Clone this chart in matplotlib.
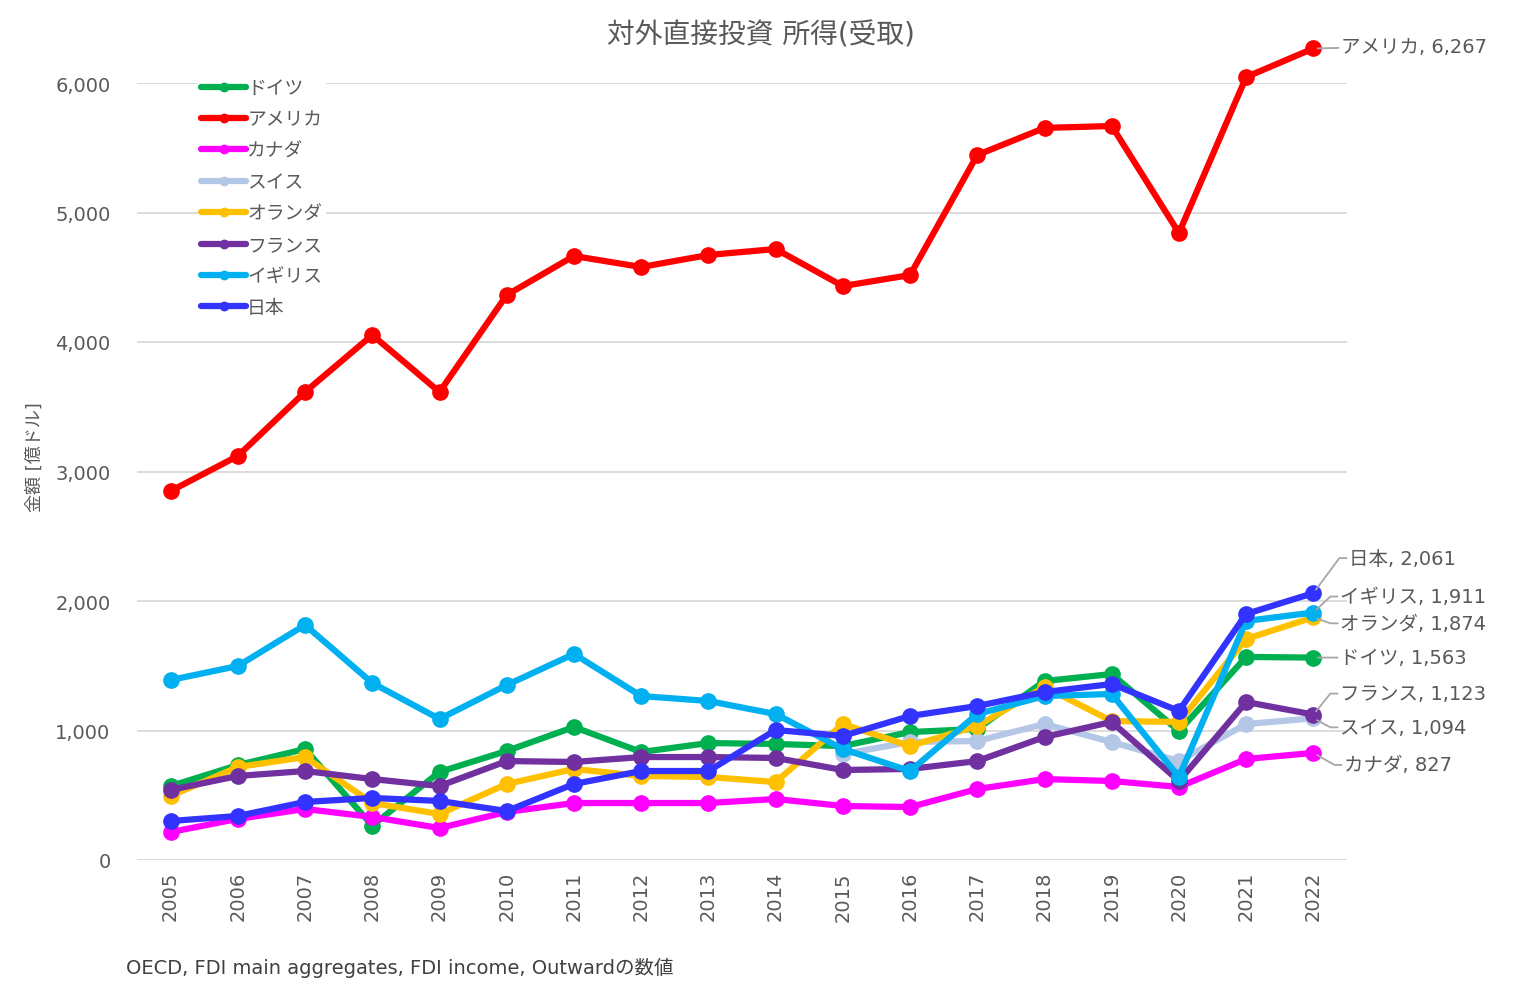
import math
import matplotlib
matplotlib.use("Agg")
import matplotlib.pyplot as plt
from matplotlib.ticker import FuncFormatter

# 英数字は幅の広い DejaVu、日本語は Noto にフォールバック
plt.rcParams['font.family'] = ['DejaVu Sans', 'Noto Sans CJK JP']

years = [str(y) for y in range(2005, 2023)]

# 億ドル
germany = [571, 733, 857, 265, 680, 842, 1027, 834, 903, 896, 880, 988, 1012, 1382, 1436, 996, 1568, 1563]
usa = [2849, 3120, 3614, 4054, 3614, 4363, 4664, 4579, 4672, 4718, 4432, 4517, 5444, 5653, 5668, 4842, 6046, 6267]
canada = [216, 317, 394, 332, 247, 371, 440, 440, 440, 471, 417, 409, 548, 625, 610, 564, 780, 827]
swiss = [None] * 10 + [818, 911, 919, 1050, 911, 764, 1050, 1094]
netherlands = [494, 718, 795, 440, 355, 587, 703, 649, 641, 602, 1050, 880, 1035, 1336, 1073, 1066, 1707, 1874]
france = [541, 649, 687, 625, 571, 764, 757, 795, 795, 788, 695, 703, 764, 950, 1066, 610, 1220, 1123]
uk = [1390, 1498, 1815, 1367, 1089, 1351, 1591, 1266, 1228, 1127, 857, 687, 1127, 1266, 1282, 641, 1846, 1911]
japan = [301, 340, 448, 479, 456, 378, 587, 687, 687, 1004, 958, 1112, 1189, 1297, 1359, 1151, 1900, 2061]

names = ["ドイツ", "アメリカ", "カナダ", "スイス", "オランダ", "フランス", "イギリス", "日本"]
values = [germany, usa, canada, swiss, netherlands, france, uk, japan]
colors = ["#00B050", "#FF0000", "#FF00FF", "#B4C7E7", "#FFC000", "#7030A0", "#00B0F0", "#3333FF"]

# ラベルのずらし量 (pixel): 点からテキスト左端まで
label_offsets = {
    "アメリカ": (28, 2),
    "日本": (36, 35),
    "イギリス": (27, 16),
    "オランダ": (27, -6),
    "ドイツ": (27, 0),
    "フランス": (27, 21),
    "スイス": (27, -9),
    "カナダ": (31, -12),
}

text_color = "#595959"

fig = plt.figure(figsize=(15.24, 9.95), dpi=100)
ax = fig.add_axes([137 / 1524, 1 - 861 / 995, 1210 / 1524, 777 / 995])

x = list(range(len(years)))
for name, vals, c in zip(names, values, colors):
    xs = [i for i, v in zip(x, vals) if v is not None]
    ys = [v for v in vals if v is not None]
    ax.plot(xs, ys, color=c, lw=4.5, marker="o", ms=11, label=name,
            solid_capstyle="round", solid_joinstyle="round", clip_on=False, zorder=3)

ax.set_xlim(-0.5, len(years) - 0.5)
ax.set_ylim(0, 6000)
ax.set_yticks(range(0, 6001, 1000))
ax.yaxis.set_major_formatter(FuncFormatter(lambda v, p: f"{int(v):,}"))
ax.set_xticks(x)
ax.set_xticklabels(years, rotation=90)
ax.tick_params(axis="both", length=0, labelsize=14, labelcolor=text_color)
ax.tick_params(axis="y", pad=19)
ax.tick_params(axis="x", pad=8)
ax.grid(axis="y", color="#D9D9D9", lw=1.3)
ax.set_axisbelow(True)
for s in ax.spines.values():
    s.set_visible(False)

ax.set_ylabel("金額 [億ドル]", fontsize=13, color=text_color)
ax.yaxis.set_label_coords(-0.077, 0.52)

# 右端のデータラベル
for name, vals, c in zip(names, values, colors):
    dx, dy = label_offsets[name]
    last = vals[-1]
    txt = f"{name}, {last:,}"
    if abs(dy) < 4:
        cs = "arc3"
    else:
        ang = math.degrees(math.atan2(dy, dx - 10))
        cs = f"angle,angleA=0,angleB={ang:.1f},rad=0"
    ax.annotate(txt, xy=(x[-1], last), xytext=(dx, dy), textcoords="offset pixels",
                ha="left", va="center", fontsize=14, color=text_color,
                annotation_clip=False,
                arrowprops=dict(arrowstyle="-", color="#A6A6A6", lw=1.3,
                                connectionstyle=cs, shrinkA=0, shrinkB=3))

leg = ax.legend(loc="upper left", bbox_to_anchor=(0.05, 1.011), frameon=True,
                fontsize=13.5, handlelength=2.4, handletextpad=0.05,
                labelspacing=0.66, markerscale=0.55, borderpad=0.2,
                borderaxespad=0)
leg.get_frame().set_facecolor("white")
leg.get_frame().set_edgecolor("none")
leg.get_frame().set_alpha(1)
for t in leg.get_texts():
    t.set_color(text_color)

fig.text(0.499, 0.964, "対外直接投資 所得(受取)", ha="center", va="center",
         fontsize=20, color=text_color)
fig.text(126 / 1524, 1 - 968 / 995, "OECD, FDI main aggregates, FDI income, Outwardの数値",
         ha="left", va="center", fontsize=14, color="#404040")

fig.savefig("out.png", dpi=100, facecolor="white")
